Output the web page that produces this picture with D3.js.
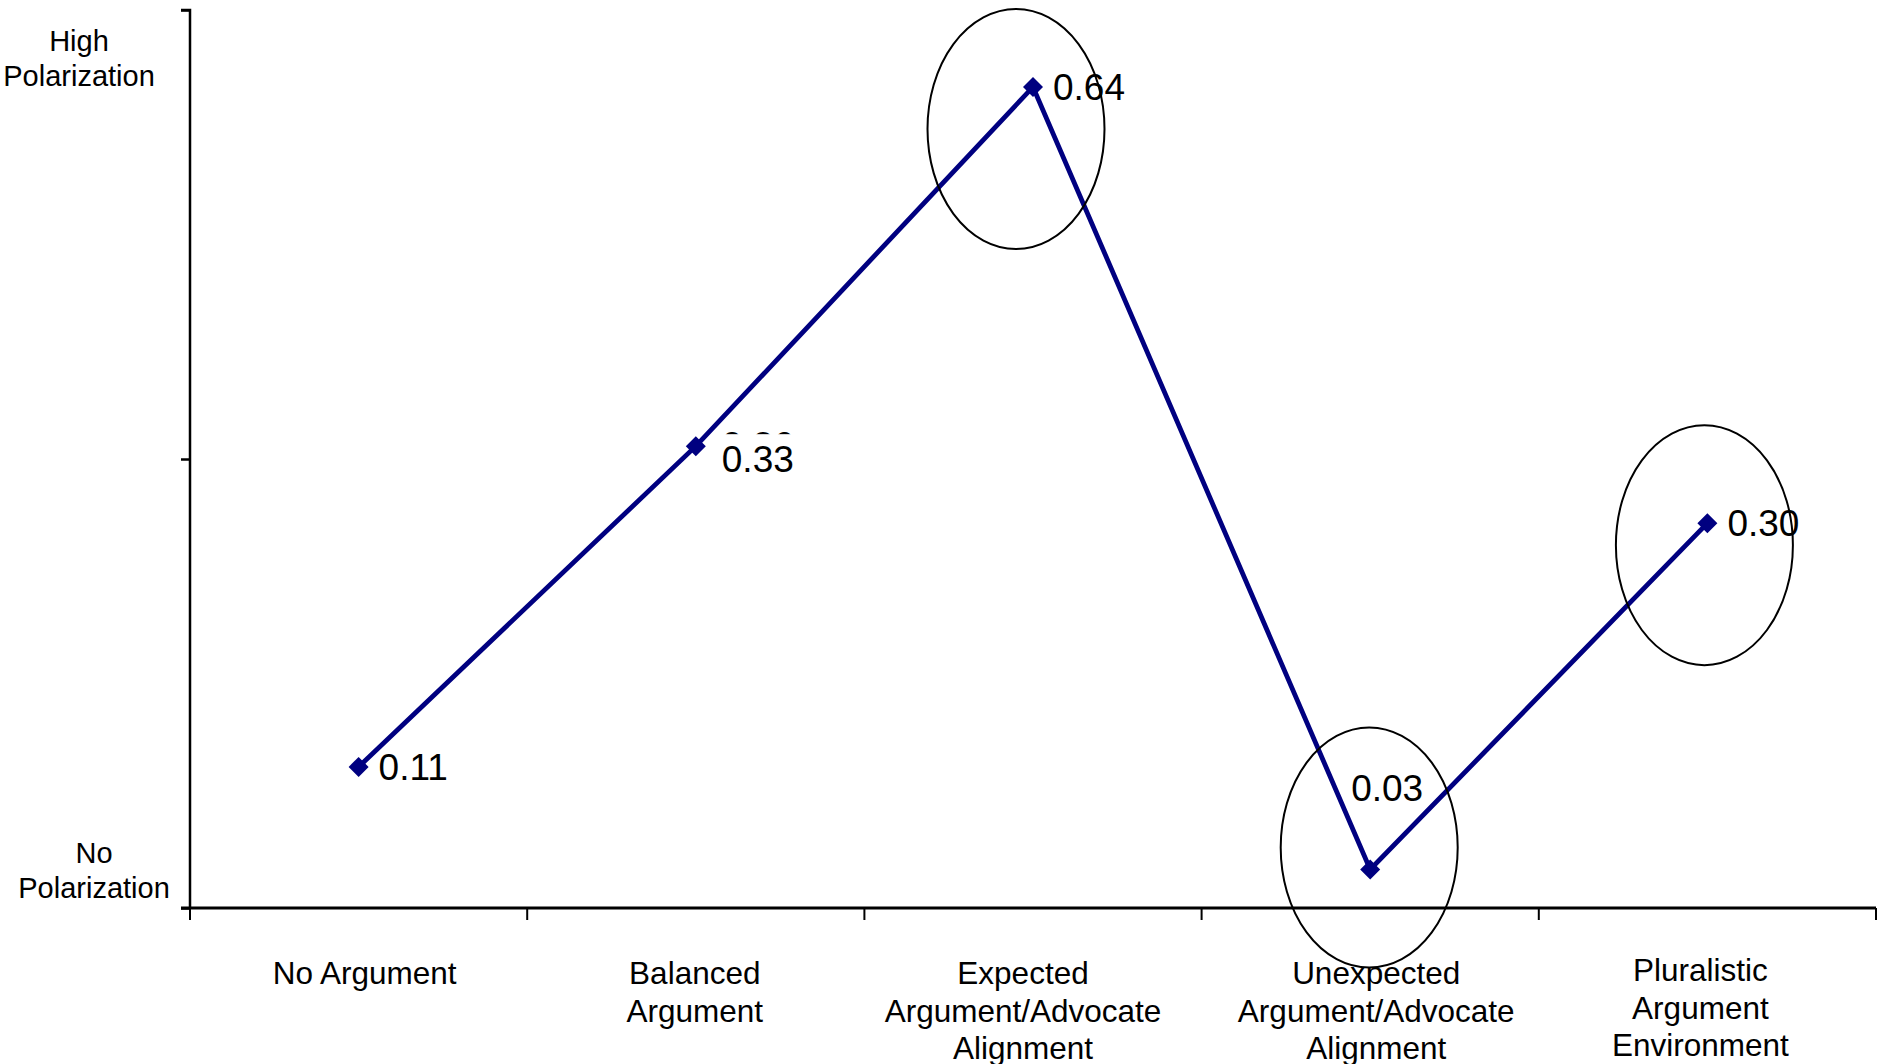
<!DOCTYPE html>
<html>
<head>
<meta charset="utf-8">
<script src="https://cdn.jsdelivr.net/npm/d3@7"></script>
<style>
  html, body { margin: 0; padding: 0; background: #fff; }
  svg { display: block; font-family: "Liberation Sans", Arial, sans-serif; }
</style>
</head>
<body>
<svg id="chart" width="1878" height="1064"></svg>
<script>
// ---- data ----
const categories = [
  ["No Argument"],
  ["Balanced", "Argument"],
  ["Expected", "Argument/Advocate", "Alignment"],
  ["Unexpected", "Argument/Advocate", "Alignment"],
  ["Pluralistic", "Argument", "Environment"]
];
const values = [0.11, 0.36, 0.64, 0.03, 0.30];
const pointLabels = ["0.11", "0.33", "0.64", "0.03", "0.30"];
const hiddenLabel = "0.36";
const yTicks = [0, 0.35, 0.7];
const yEndLabels = [
  { v: 0.7, lines: ["High", "Polarization"] },
  { v: 0, lines: ["No", "Polarization"] }
];
const circledPoints = [2, 3, 4];

(function () {
  // ---- layout ----
  const svg = d3.select("#chart");
  const mLeft = 190, mRight = 1876, mTop = 10, mBottom = 908;
  const navy = "#000080";
  const catLabelShift = [6, -1, -10, 6, -7];
  const catLabelLift = [0, 0, 0, 0, -3];

  const x = d3.scaleBand().domain(d3.range(categories.length)).range([mLeft, mRight]).padding(0);
  const y = d3.scaleLinear().domain([0, 0.7]).range([mBottom, mTop]);
  const cx = i => x(i) + x.bandwidth() / 2;

  // Y axis
  const yAxis = d3.axisLeft(y).tickValues(yTicks).tickSize(9).tickFormat("");
  const gy = svg.append("g").attr("transform", `translate(${mLeft},0)`).call(yAxis);
  gy.select(".domain").attr("stroke", "#000").attr("stroke-width", 2.5).attr("d", `M-9,${mTop}H0V${mBottom}`);
  gy.selectAll(".tick line").attr("stroke", "#000").attr("stroke-width", 2.5);

  // X axis (ticks at band boundaries)
  const boundaries = d3.range(categories.length + 1).map(i => mLeft + i * x.bandwidth());
  const gx = svg.append("g");
  gx.append("line").attr("x1", mLeft - 9).attr("x2", mRight).attr("y1", mBottom).attr("y2", mBottom)
    .attr("stroke", "#000").attr("stroke-width", 3);
  gx.selectAll("line.tick").data(boundaries).join("line").attr("class", "tick")
    .attr("x1", d => d).attr("x2", d => d).attr("y1", mBottom).attr("y2", mBottom + 12)
    .attr("stroke", "#000").attr("stroke-width", 2);

  // Category labels
  const catG = svg.append("g").attr("font-size", 31.5).attr("fill", "#000").attr("text-anchor", "middle");
  categories.forEach((lines, i) => {
    const lx = cx(i) + catLabelShift[i];
    const t = catG.append("text").attr("x", lx).attr("y", mBottom + 76 + catLabelLift[i]);
    lines.forEach((ln, j) => t.append("tspan").attr("x", lx).attr("dy", j === 0 ? 0 : 37.5).text(ln));
  });

  // Y end labels
  const yl = svg.append("g").attr("font-size", 29).attr("fill", "#000").attr("text-anchor", "middle");
  yEndLabels.forEach((d, k) => {
    const t = yl.append("text");
    const xc = k === 0 ? 79 : 94;
    const y0 = k === 0 ? y(d.v) + 41 : y(d.v) - 45;
    d.lines.forEach((ln, j) => t.append("tspan").attr("x", xc).attr("y", y0 + j * 35).text(ln));
  });

  // Series line
  const line = d3.line().x((d, i) => cx(i)).y(d => y(d));
  svg.append("path").datum(values).attr("d", line)
    .attr("fill", "none").attr("stroke", navy).attr("stroke-width", 4.8).attr("stroke-linejoin", "miter");

  // Markers
  svg.append("g").selectAll("path").data(values).join("path")
    .attr("d", d3.symbol().type(d3.symbolSquare).size(200))
    .attr("transform", (d, i) => `translate(${cx(i)},${y(d)}) rotate(45)`)
    .attr("fill", navy);

  // Hidden (partially covered) label under "0.33"
  const lg = svg.append("g").attr("font-size", 37).attr("fill", "#000");
  lg.append("text").attr("x", cx(1) + 26).attr("y", y(values[1]) + 12).text(hiddenLabel);
  svg.append("rect").attr("x", cx(1) + 22).attr("y", y(values[1]) - 12).attr("width", 80).attr("height", 48).attr("fill", "#fff");

  // Point labels
  const lg2 = svg.append("g").attr("font-size", 37).attr("fill", "#000");
  values.forEach((v, i) => {
    let dx = 20, dy = 13;
    if (i === 1) { dx = 26; dy = 26; }
    if (i === 3) { dx = -19; dy = -69; }
    lg2.append("text").attr("x", cx(i) + dx).attr("y", y(v) + dy).text(pointLabels[i]);
  });

  // Annotation ellipses
  const ellOff = { 2: [-17, 42], 3: [-1, -22], 4: [-3, 22] };
  svg.append("g").selectAll("ellipse").data(circledPoints).join("ellipse")
    .attr("cx", i => cx(i) + ellOff[i][0])
    .attr("cy", i => y(values[i]) + ellOff[i][1])
    .attr("rx", 88.5).attr("ry", 120)
    .attr("fill", "none").attr("stroke", "#000").attr("stroke-width", 2);
})();
</script>
</body>
</html>
